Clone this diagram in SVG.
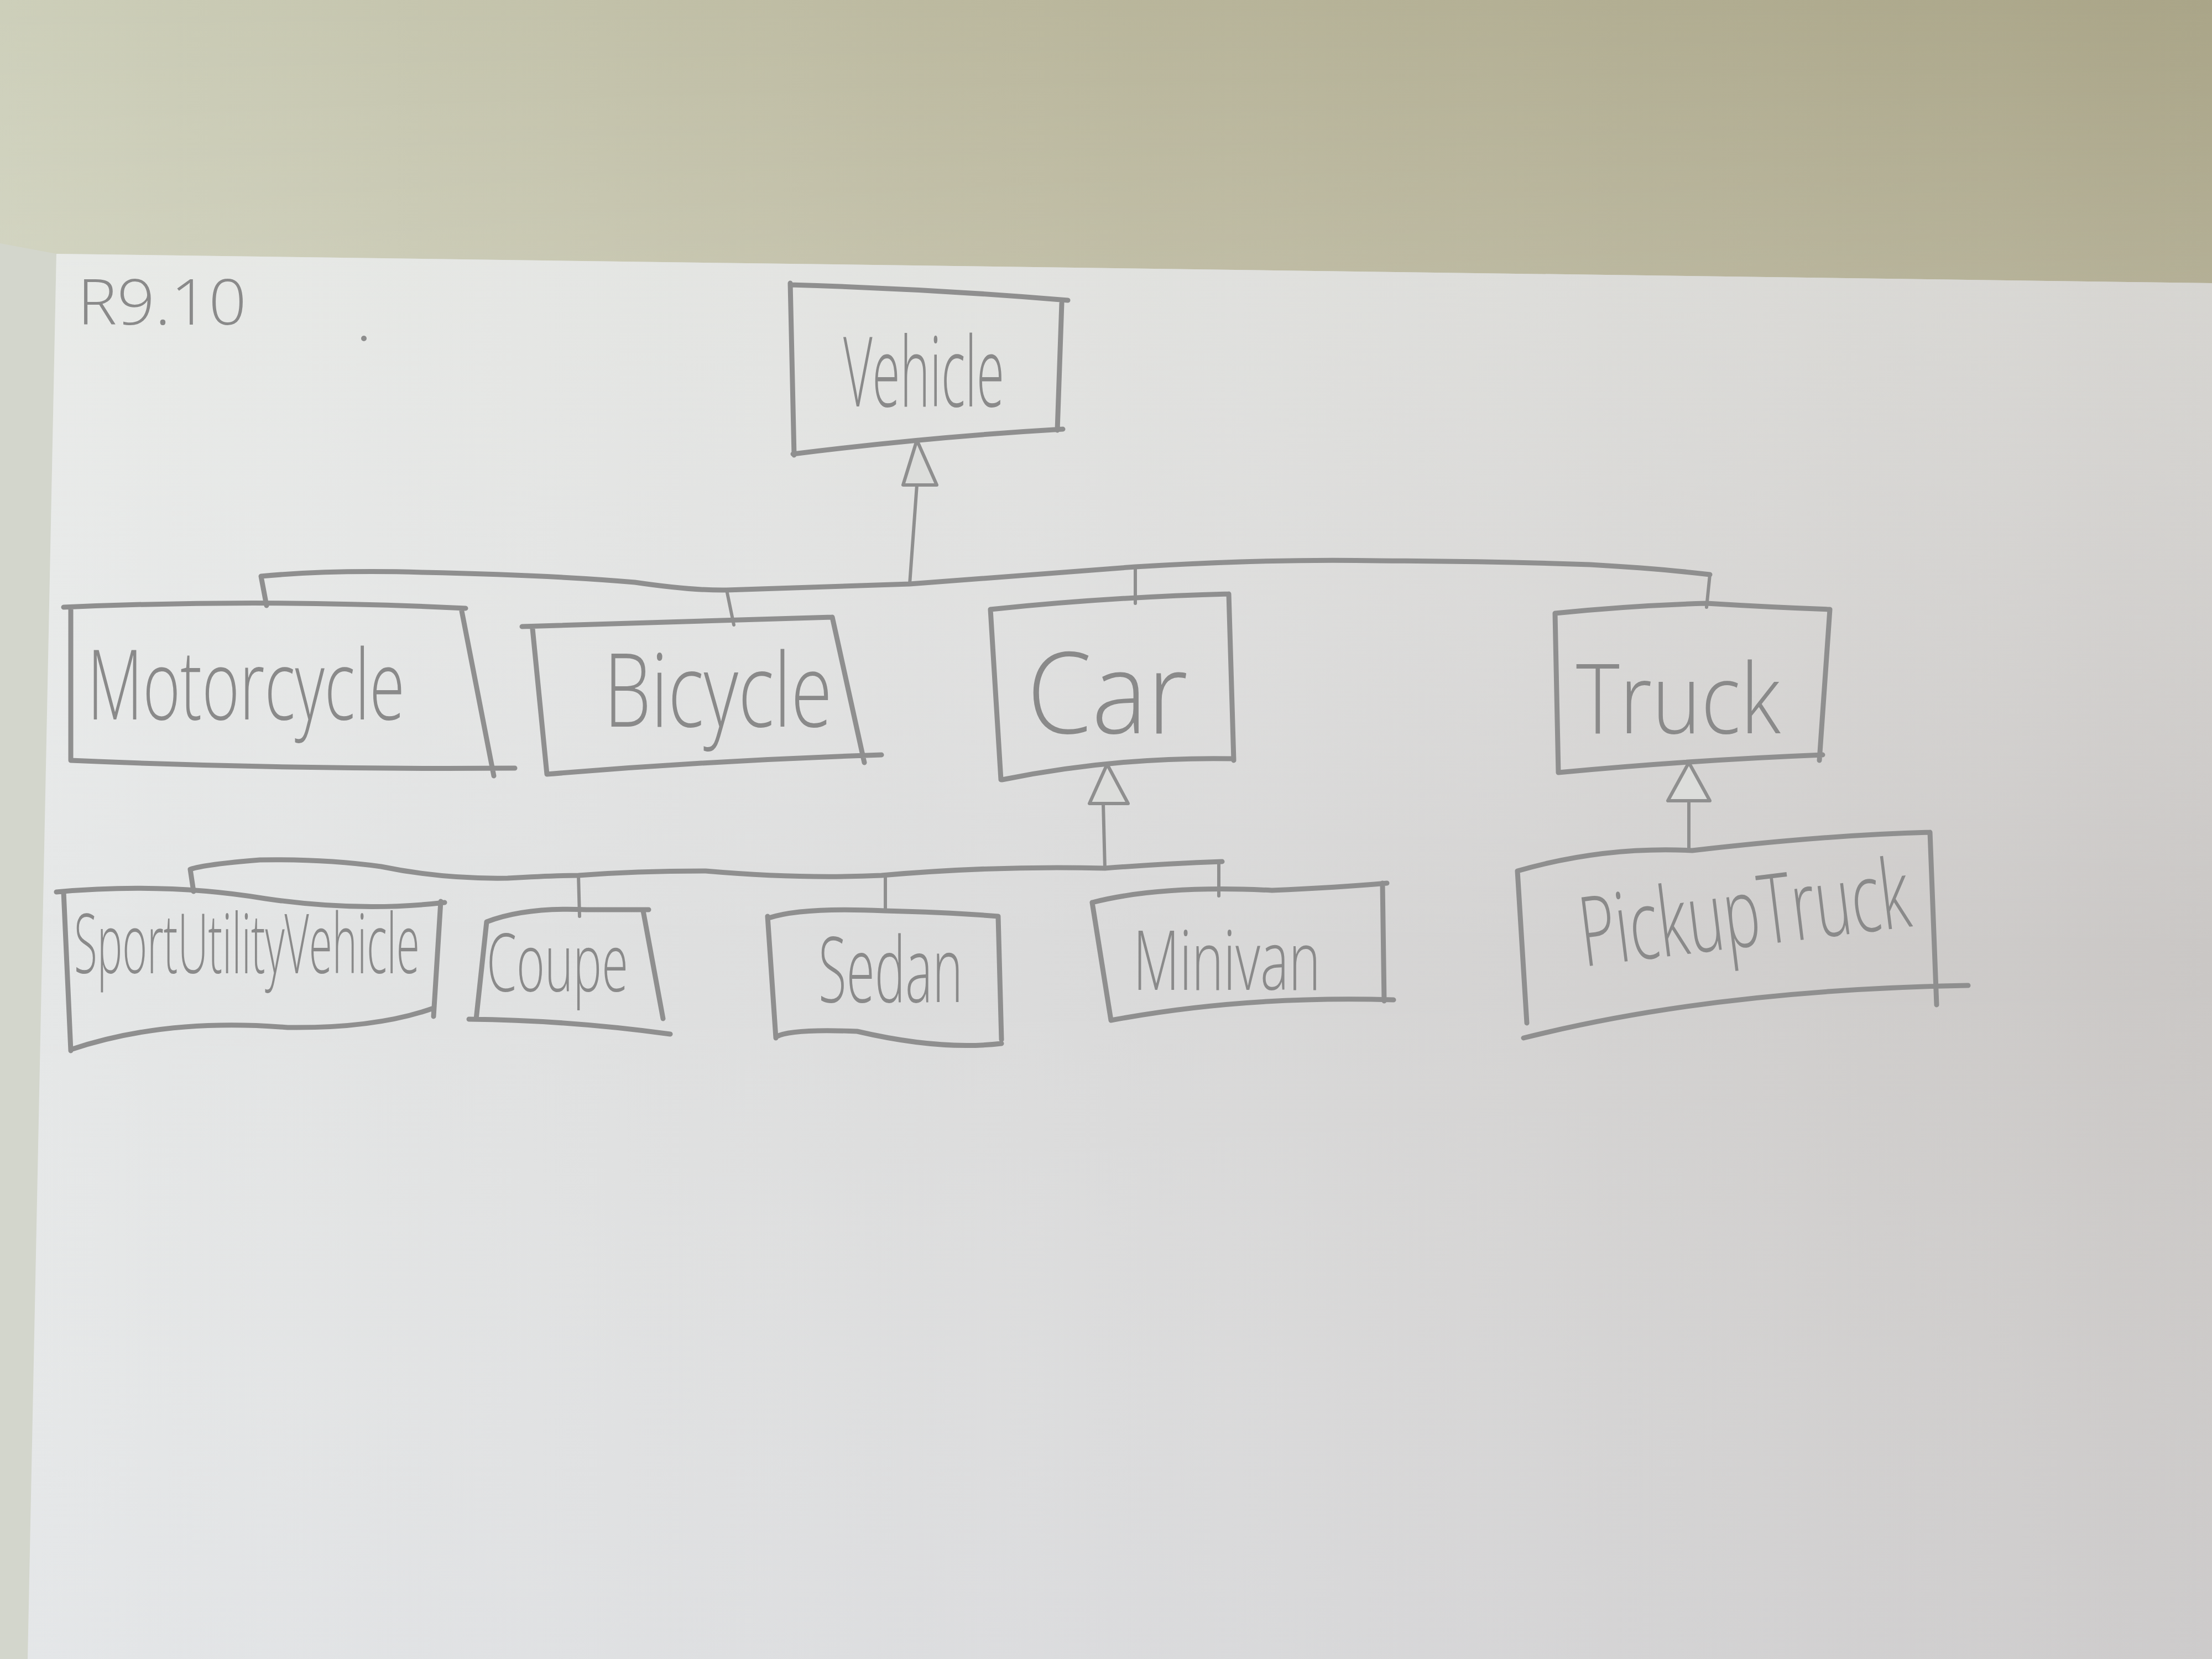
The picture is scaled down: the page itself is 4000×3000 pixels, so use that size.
<svg xmlns="http://www.w3.org/2000/svg" width="4000" height="3000" viewBox="0 0 4000 3000">
<defs>
<linearGradient id="wall" x1="0" y1="0" x2="1" y2="0">
<stop offset="0" stop-color="#cdcfba"/>
<stop offset="0.45" stop-color="#bbb89e"/>
<stop offset="1" stop-color="#aaa588"/>
</linearGradient>
<linearGradient id="wallV" x1="0" y1="0" x2="0" y2="1">
<stop offset="0" stop-color="#ffffff" stop-opacity="0"/>
<stop offset="1" stop-color="#ffffff" stop-opacity="0.12"/>
</linearGradient>
<linearGradient id="paper" x1="0" y1="0" x2="1" y2="0">
<stop offset="0" stop-color="#e5e7e7"/>
<stop offset="0.5" stop-color="#dadada"/>
<stop offset="1" stop-color="#cac7c5"/>
</linearGradient>
<linearGradient id="paperV" x1="0" y1="0" x2="0" y2="1">
<stop offset="0" stop-color="#eef0e8" stop-opacity="0.35"/>
<stop offset="0.5" stop-color="#ffffff" stop-opacity="0"/>
<stop offset="1" stop-color="#dfe2ee" stop-opacity="0.15"/>
</linearGradient>
<style>
.ln{fill:none;stroke:#8f8f8f;stroke-width:9;stroke-linecap:round;stroke-linejoin:round}
.th{fill:none;stroke:#8f8f8f;stroke-width:6;stroke-linecap:round}
.ah{fill:#dcdddb;stroke:#8f8f8f;stroke-width:6;stroke-linejoin:round}
.t{font-family:"Open Sans","DejaVu Sans",sans-serif;fill:#8a8a8a;font-weight:300}
</style>
</defs>
<rect x="0" y="0" width="4000" height="3000" fill="url(#wall)"/>
<rect x="0" y="0" width="4000" height="520" fill="url(#wallV)"/>
<polygon points="0,440 102,459 4000,512 4000,3000 0,3000" fill="#d3d6cc"/>
<polygon points="102,459 4000,512 4000,3000 50,3000" fill="url(#paper)"/>
<polygon points="102,459 4000,512 4000,3000 50,3000" fill="url(#paperV)"/>

<g id="label-r910">
<text class="t" x="140" y="587" font-size="115" textLength="306" lengthAdjust="spacingAndGlyphs">R9.10</text>
<circle cx="658" cy="612" r="5" fill="#8d8d8d"/>
</g>

<g id="vehicle">
<path class="ln" d="M1429,515 Q1680,522 1931,543 M1920,548 L1912,778 M1434,821 Q1680,790 1922,776 M1429,512 L1436,823"/>
<text class="t" x="1525" y="735" font-size="175" textLength="291" lengthAdjust="spacingAndGlyphs">Vehicle</text>
</g>

<g id="motorcycle">
<path class="ln" d="M115,1098 Q480,1082 842,1100 M128,1102 L128,1375 M835,1105 L893,1403 M128,1375 Q520,1392 931,1389"/>
<text class="t" x="158" y="1301" font-size="175" textLength="574" lengthAdjust="spacingAndGlyphs">Motorcycle</text>
</g>

<g id="bicycle">
<path class="ln" d="M944,1133 Q1230,1125 1505,1116 M963,1137 L989,1400 M1505,1116 L1563,1379 M989,1400 Q1290,1375 1594,1365"/>
<text class="t" x="1092" y="1314" font-size="185" textLength="413" lengthAdjust="spacingAndGlyphs">Bicycle</text>
</g>

<g id="car">
<path class="ln" d="M1791,1102 Q2000,1080 2222,1074 M1791,1102 L1810,1410 M2222,1074 L2231,1375 M1812,1410 Q2020,1368 2231,1372"/>
<text class="t" x="1857" y="1326" font-size="205" textLength="291" lengthAdjust="spacingAndGlyphs">Car</text>
</g>

<g id="truck">
<path class="ln" d="M2812,1109 Q2950,1095 3086,1091 Q3200,1098 3309,1102 M2812,1109 L2818,1397 M3309,1102 L3290,1375 M2818,1397 Q3050,1375 3296,1365"/>
<text class="t" x="2850" y="1326" font-size="175" textLength="370" lengthAdjust="spacingAndGlyphs">Truck</text>
</g>

<g id="sportutilityvehicle">
<path class="ln" d="M102,1613 Q300,1595 480,1625 Q650,1650 804,1632 M115,1613 L128,1900 M797,1630 L784,1838 M128,1898 Q300,1840 520,1858 Q680,1860 784,1823"/>
<text class="t" x="0" y="0" font-size="150" transform="translate(134,1760) scale(0.51,1)">SportUtilityVehicle</text>
</g>

<g id="coupe">
<path class="ln" d="M880,1667 Q950,1640 1060,1645 Q1120,1645 1173,1645 M880,1667 L861,1843 M1163,1647 L1199,1842 M848,1843 Q1030,1845 1212,1870"/>
<text class="t" x="0" y="0" font-size="145" transform="translate(880,1793) scale(0.6,1)">Coupe</text>
</g>

<g id="sedan">
<path class="ln" d="M1390,1660 Q1450,1640 1600,1647 Q1720,1650 1805,1657 M1388,1657 L1403,1877 M1805,1658 L1811,1880 M1403,1875 Q1430,1860 1550,1865 Q1700,1900 1811,1887"/>
<text class="t" x="1480" y="1812" font-size="165" textLength="261" lengthAdjust="spacingAndGlyphs">Sedan</text>
</g>

<g id="minivan">
<path class="ln" d="M1975,1632 Q2100,1600 2300,1610 Q2420,1605 2508,1597 M1975,1632 L2009,1845 M2500,1597 L2503,1810 M2009,1845 Q2250,1800 2520,1808"/>
<text class="t" x="2049" y="1790" font-size="150" textLength="339" lengthAdjust="spacingAndGlyphs">Minivan</text>
</g>

<g id="pickuptruck">
<path class="ln" d="M2744,1575 Q2900,1530 3060,1538 Q3300,1510 3490,1505 M2744,1575 L2761,1850 M3490,1505 L3502,1817 M2755,1877 Q3100,1790 3559,1782"/>
<text class="t" x="2864" y="1748" font-size="175" textLength="600" lengthAdjust="spacingAndGlyphs" transform="rotate(-7 2864 1748)">PickupTruck</text>
</g>

<g id="connectors">
<path class="ln" d="M482,1095 L472,1042 Q600,1030 765,1035 Q1000,1040 1148,1053 Q1250,1068 1314,1067 Q1480,1062 1645,1056 Q1850,1040 2053,1025 Q2300,1010 2493,1014 Q2700,1015 2875,1021 Q3000,1028 3092,1039"/>
<path class="th" d="M1314,1067 L1327,1130 M1645,1056 L1658,877 M2053,1025 L2053,1091 M3092,1039 L3086,1098"/>
<polygon class="ah" points="1658,796 1633,877 1694,877"/>

<path class="ln" d="M350,1612 L344,1572 Q370,1563 470,1555 Q587,1553 689,1567 Q800,1590 918,1588 Q1000,1583 1046,1583 Q1150,1575 1276,1575 Q1450,1590 1594,1583 Q1800,1565 1998,1570 Q2100,1562 2210,1558"/>
<path class="th" d="M1046,1583 L1048,1657 M1601,1582 L1601,1643 M2204,1560 L2204,1620 M1995,1453 L1998,1570 M3054,1448 L3054,1538"/>
<polygon class="ah" points="2002,1382 1970,1453 2040,1453"/>
<polygon class="ah" points="3054,1379 3016,1448 3092,1448"/>
</g>
</svg>
